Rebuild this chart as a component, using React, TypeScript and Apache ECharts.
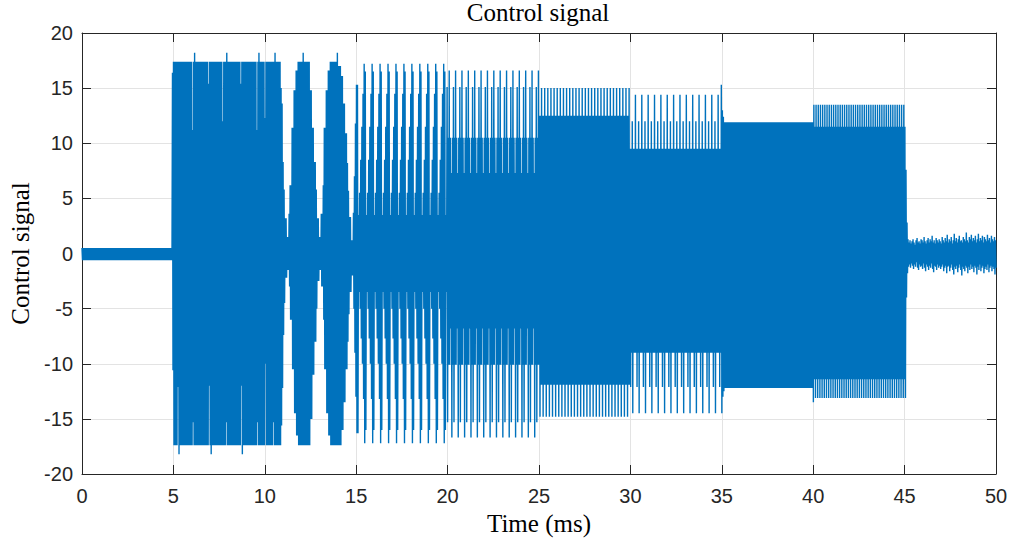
import React, { useEffect, useRef } from "react";
import * as echarts from "echarts";

// Axis ranges and tick steps (ms, signal units)
const xRange = [0, 50];
const xStep = 5;
const yRange = [-20, 20];
const yStep = 5;

// Segment end times (ms) and cycle length (ms) of the oscillation inside each segment
const segmentEnds = [4.97, 10.8, 15.12, 19.934, 24.98, 29.97, 35.0, 40.0, 45.03, 50.0];
const segmentCycles = [0.055, 0.055, 0.055, 0.06214, 0.0581, 0.057, 0.058, 0.055, 0.06, 0.055];

// Peak patterns (repeated cycle after cycle) read from each segment
const quietTop = [0.5];
const quietBottom = [-0.6];
const burstTop = [17.4];
const burstBottom = [-17.4];
const rampTop = [3.5, 5.5, 8.5, 11.5, 14.5, 17.2, 16.5];
const rampBottom = [-3.5, -5.0, -7.7, -10.0, -13.2, -17.2, -16.0];
const stair20Top = [15.1, 10.5, 16.6, 10.5, 7.3, 10.5];
const stair20Bottom = [-15.3, -10.1, -10.1, -6.8, -16.7, -10.1];
const comb25Top = [12.5, 12.5, 15.0];
const comb25Bottom = [-14.8, -11.9, -11.9];
const stair30Top = [9.5, 9.5, 12.0, 9.5, 9.5, 14.4];
const stair30Bottom = [-12.1, -9.0, -14.5, -9.0, -9.0, -9.0];
const flat35Top = [11.9];
const flat35Bottom = [-12.2];
const comb40Top = [13.5, 11.5];
const comb40Bottom = [-11.4, -13.1];
const tailTop = [
  7.6, 2.8, 1.3, 1.0, 1.2, 0.9, 1.1, 1.3, 1.0, 0.8,
  1.2, 1.4, 1.0, 1.1, 0.9, 1.3, 1.2, 1.0, 1.5, 1.1,
  0.9, 1.2, 1.4, 1.0, 1.3, 1.1, 1.6, 1.0, 1.2, 0.9,
  1.4, 1.2, 1.0, 1.3, 1.1, 0.9, 1.5, 1.2, 1.0, 1.4,
  1.1, 1.7, 1.0, 1.3, 1.1, 1.5, 0.9, 1.2, 1.8, 1.1,
  1.4, 1.0, 1.3, 1.6, 1.1, 1.2, 1.0, 1.5, 1.3, 1.1,
  1.9, 1.2, 1.0, 1.5, 1.3, 1.7, 1.1, 1.4, 1.2, 1.6,
  1.0, 1.3, 1.8, 1.1, 1.4, 1.2, 1.6, 1.0, 1.5, 1.3,
  1.1, 1.7, 1.2, 1.4, 1.0, 1.6, 1.3, 1.1, 1.5, 1.2,
];
const tailBottom = [
  -4.0, -1.8, -1.2, -1.0, -1.3, -0.9, -1.1, -1.4, -1.0, -1.2,
  -0.8, -1.3, -1.5, -1.0, -1.2, -1.1, -1.4, -0.9, -1.3, -1.6,
  -1.0, -1.2, -1.5, -1.1, -1.3, -0.9, -1.4, -1.7, -1.1, -1.2,
  -1.5, -1.0, -1.3, -1.1, -1.4, -1.2, -1.0, -1.6, -1.3, -1.1,
  -1.8, -1.2, -1.1, -1.6, -1.3, -1.0, -1.5, -1.9, -1.2, -1.4,
  -1.1, -1.7, -1.3, -1.0, -1.5, -2.0, -1.2, -1.4, -1.6, -1.1,
  -1.3, -1.8, -1.2, -1.5, -1.0, -1.4, -1.2, -1.7, -1.1, -1.3,
  -1.9, -1.2, -1.5, -1.0, -1.6, -1.3, -1.1, -1.8, -1.4, -1.2,
  -1.5, -1.0, -1.7, -1.3, -1.1, -1.6, -1.2, -1.4, -1.9, -1.3,
];

// Beating envelope between 10.8 and 15.1 ms: step start times and peak levels
const beatStarts = [10.8, 10.84, 10.9, 10.96, 11.04, 11.1, 11.17, 11.3, 11.38, 11.46, 11.58, 11.7, 11.8, 12.08, 12.13,
  12.45, 12.58, 12.68, 12.77, 12.86, 12.95, 13.08, 13.16, 13.25, 13.35, 13.45, 13.55, 13.97, 14.01, 14.15, 14.25,
  14.4, 14.5, 14.57, 14.63, 14.7, 14.8, 14.86, 14.92, 14.98];
const beatTops = [17.4, 15.0, 13.6, 8.3, 5.8, 3.2, 1.5, 3.6, 6.2, 11.4, 14.8, 16.6, 17.4, 18.2, 17.4,
  14.8, 11.4, 8.3, 5.8, 3.2, 1.5, 3.6, 6.2, 11.4, 14.8, 16.6, 17.4, 18.2, 17.0, 16.1, 13.6,
  10.9, 8.2, 5.7, 3.3, 1.2, 3.7, 7.0, 11.8, 15.3];
const beatBottoms = [-17.4, -15.6, -12.2, -7.4, -4.5, -2.2, -1.5, -3.0, -6.0, -10.5, -14.5, -16.5, -17.4, -17.4, -17.4,
  -15.0, -11.0, -8.0, -5.0, -2.5, -1.5, -3.0, -6.0, -10.5, -14.5, -16.5, -17.4, -17.4, -17.4, -16.0, -13.5,
  -10.5, -8.0, -5.5, -3.5, -2.0, -5.0, -9.0, -13.0, -16.3];

// Single cycles that stand out (spikes above the band, notches into it)
const eventTimes = [4.98, 5.24, 5.31, 6.09, 6.17, 6.97, 7.04, 7.73, 7.87, 7.93, 8.71, 8.79, 9.61, 9.68, 10.06, 10.5, 10.56, 35.01, 35.07, 35.13, 40.02];
const eventTops: (number | null)[] = [16.4, null, null, 11.2, 18.2, 15.4, null, 12.0, null, 18.2, 15.4, null, 11.2, 18.2, 12.3, null, 18.2, 15.3, 13.0, 12.4, null];
const eventBottoms: (number | null)[] = [-10.6, -12.1, -18.2, -15.3, null, -12.0, -18.2, null, -15.3, null, -12.0, -18.2, -15.3, null, -10.0, -15.3, null, -14.5, -13.0, -12.5, -13.5];

function buildSignal(): [number, number][] {
  const tops: (number[] | null)[] = [quietTop, burstTop, null, rampTop, stair20Top, comb25Top, stair30Top, flat35Top, comb40Top, tailTop];
  const bottoms: (number[] | null)[] = [quietBottom, burstBottom, null, rampBottom, stair20Bottom, comb25Bottom, stair30Bottom, flat35Bottom, comb40Bottom, tailBottom];
  const pts: [number, number][] = [];
  let t = 0;
  for (let s = 0; s < segmentEnds.length; s++) {
    const c = segmentCycles[s];
    let k = 0;
    while (t < segmentEnds[s] - 1e-9) {
      let hi: number;
      let lo: number;
      const tp = tops[s];
      const bp = bottoms[s];
      if (tp && bp) {
        hi = tp[k % tp.length];
        lo = bp[k % bp.length];
      } else {
        let i = 0;
        while (i + 1 < beatStarts.length && beatStarts[i + 1] <= t + 1e-9) i++;
        hi = beatTops[i];
        lo = beatBottoms[i];
      }
      for (let e = 0; e < eventTimes.length; e++) {
        if (eventTimes[e] >= t && eventTimes[e] < t + c) {
          const et = eventTops[e];
          const eb = eventBottoms[e];
          if (et !== null) hi = et;
          if (eb !== null) lo = eb;
        }
      }
      pts.push([t, hi], [t + c / 2, lo]);
      t += c;
      k++;
    }
  }
  return pts;
}

const axisColor = "#262626";
const gridColor = "#e3e3e3";
const lineColor = "#0072BD";

export default function App() {
  const ref = useRef<HTMLDivElement | null>(null);
  useEffect(() => {
    document.body.style.margin = "0";
    if (!ref.current) return;
    const chart = echarts.init(ref.current, undefined, { renderer: "svg" });
    const labelStyle = { fontFamily: "Liberation Sans", fontSize: 20, color: axisColor };
    const nameStyle = { fontFamily: "Liberation Serif", fontSize: 25, color: "#000" };
    const xBase = {
      type: "value" as const,
      min: xRange[0],
      max: xRange[1],
      interval: xStep,
      axisLine: { show: true, onZero: false, lineStyle: { color: axisColor, width: 1 } },
      axisTick: { show: true, inside: true, length: 9, lineStyle: { color: axisColor } },
    };
    const yBase = {
      type: "value" as const,
      min: yRange[0],
      max: yRange[1],
      interval: yStep,
      axisLine: { show: true, onZero: false, lineStyle: { color: axisColor, width: 1 } },
      axisTick: { show: true, inside: true, length: 9, lineStyle: { color: axisColor } },
    };
    chart.setOption({
      animation: false,
      title: {
        text: "Control signal",
        left: 538,
        top: 0,
        textAlign: "center",
        padding: 0,
        textStyle: { ...nameStyle, fontWeight: "normal" },
      },
      grid: { left: 80, right: 15, top: 33, bottom: 67, containLabel: false },
      xAxis: [
        {
          ...xBase,
          position: "bottom",
          name: "Time (ms)",
          nameLocation: "middle",
          nameGap: 36,
          nameTextStyle: nameStyle,
          axisLabel: { ...labelStyle, margin: 12 },
          splitLine: { show: true, lineStyle: { color: gridColor, width: 1 } },
        },
        {
          ...xBase,
          position: "top",
          axisLabel: { show: false },
          splitLine: { show: false },
        },
      ],
      yAxis: [
        {
          ...yBase,
          position: "left",
          name: "Control signal",
          nameLocation: "middle",
          nameGap: 49,
          nameRotate: 90,
          nameTextStyle: nameStyle,
          axisLabel: { ...labelStyle, margin: 9 },
          splitLine: { show: true, lineStyle: { color: gridColor, width: 1 } },
        },
        {
          ...yBase,
          position: "right",
          axisLabel: { show: false },
          splitLine: { show: false },
        },
      ],
      series: [
        {
          type: "line",
          xAxisIndex: 0,
          yAxisIndex: 0,
          data: buildSignal(),
          showSymbol: false,
          symbol: "none",
          silent: true,
          lineStyle: { color: lineColor, width: 1.4 },
          clip: true,
        },
      ],
    });
    return () => chart.dispose();
  }, []);
  return <div ref={ref} style={{ width: 1011, height: 541 }} />;
}
